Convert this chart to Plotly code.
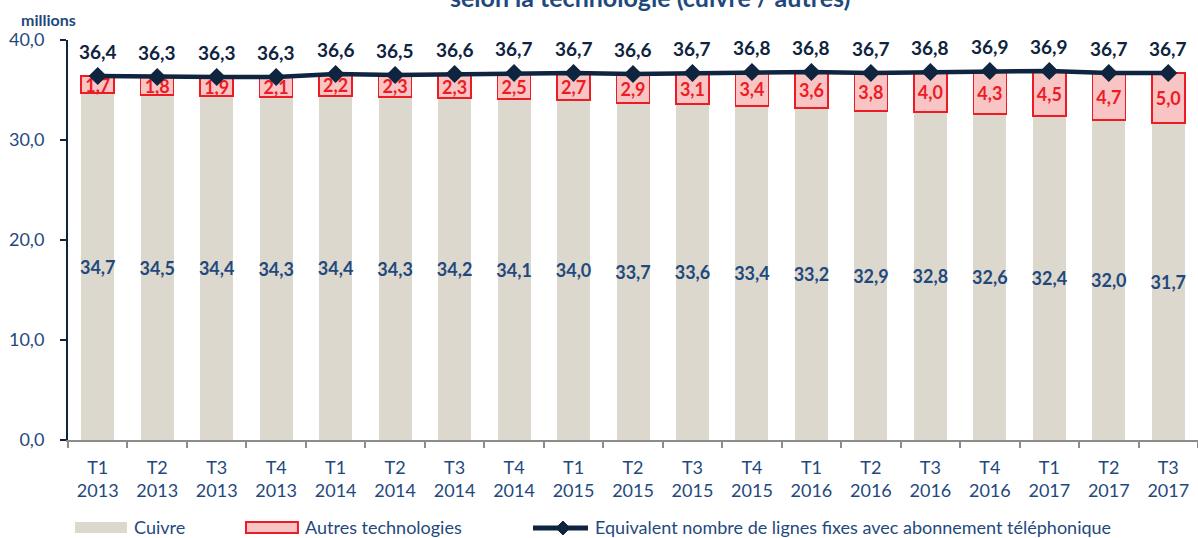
import plotly.graph_objects as go

# ---- data ----
quarters = ["T1", "T2", "T3", "T4", "T1", "T2", "T3", "T4", "T1", "T2", "T3", "T4",
            "T1", "T2", "T3", "T4", "T1", "T2", "T3"]
years = ["2013", "2013", "2013", "2013", "2014", "2014", "2014", "2014", "2015", "2015",
         "2015", "2015", "2016", "2016", "2016", "2016", "2017", "2017", "2017"]
cuivre = [34.7, 34.5, 34.4, 34.3, 34.4, 34.3, 34.2, 34.1, 34.0, 33.7, 33.6, 33.4,
          33.2, 32.9, 32.8, 32.6, 32.4, 32.0, 31.7]
autres = [1.7, 1.8, 1.9, 2.1, 2.2, 2.3, 2.3, 2.5, 2.7, 2.9, 3.1, 3.4,
          3.6, 3.8, 4.0, 4.3, 4.5, 4.7, 5.0]
total = [36.4, 36.3, 36.3, 36.3, 36.6, 36.5, 36.6, 36.7, 36.7, 36.6, 36.7, 36.8,
         36.8, 36.7, 36.8, 36.9, 36.9, 36.7, 36.7]
yticks = [0, 10, 20, 30, 40]

NAVY = "#0f243e"
BLUE = "#1f497d"
BEIGE = "#ddd8ce"
PINK = "#f9c4c4"
RED = "#ed1c24"
FONT = "Lato"


def fr(v):
    return f"{v:.1f}".replace(".", ",")


cats = [f"{q} {y}" for q, y in zip(quarters, years)]
ticktext = [f"{q}<br>{y}" for q, y in zip(quarters, years)]

fig = go.Figure()

fig.add_trace(go.Bar(
    x=cats, y=cuivre, name="Cuivre",
    marker=dict(color=BEIGE, line=dict(width=0)),
    text=[f"<b>{fr(v)}</b>" for v in cuivre], textposition="inside", insidetextanchor="middle",
    textangle=0, constraintext="none",
    textfont=dict(family=FONT, size=18, color=BLUE, weight="bold"),
    showlegend=False,
))
fig.add_trace(go.Bar(
    x=cats, y=autres, name="Autres technologies",
    marker=dict(color=PINK, line=dict(color=RED, width=1.5)),
    text=[f"<b>{fr(v)}</b>" for v in autres], textposition="inside", insidetextanchor="middle",
    textangle=0, constraintext="none",
    textfont=dict(family=FONT, size=18, color=RED, weight="bold"),
    showlegend=False,
))
fig.add_trace(go.Scatter(
    x=cats, y=total, name="Equivalent nombre de lignes fixes avec abonnement téléphonique",
    mode="lines+markers",
    line=dict(color=NAVY, width=4.5),
    marker=dict(symbol="diamond", size=14, color=NAVY),
    showlegend=False,
))

annotations = []
for c, t in zip(cats, total):
    annotations.append(dict(
        x=c, y=t, xref="x", yref="y", text=f"<b>{fr(t)}</b>", showarrow=False,
        yshift=25, font=dict(family=FONT, size=19, color=NAVY, weight="bold"),
    ))

# "millions" unit label
annotations.append(dict(
    x=-0.0173, y=1.052, xref="paper", yref="paper", text="<b>millions</b>", showarrow=False,
    xanchor="center", yanchor="middle",
    font=dict(family=FONT, size=16, color=BLUE, weight="bold"),
))
# title (partly cut off at the top, as in the reference)
annotations.append(dict(
    x=0.515, y=1.065, xref="paper", yref="paper",
    text="<b>selon la technologie (cuivre / autres)</b>", showarrow=False,
    xanchor="center", yanchor="bottom",
    font=dict(family=FONT, size=25, color=BLUE, weight="bold"),
))

# custom legend
leg_y = -0.2175
leg_font = dict(family=FONT, size=18, color=BLUE)
annotations += [
    dict(x=0.0566, y=leg_y, xref="paper", yref="paper", text="Cuivre", showarrow=False,
         xanchor="left", yanchor="middle", font=leg_font),
    dict(x=0.208, y=leg_y, xref="paper", yref="paper", text="Autres technologies",
         showarrow=False, xanchor="left", yanchor="middle", font=leg_font),
    dict(x=0.4646, y=leg_y, xref="paper", yref="paper",
         text="Equivalent nombre de lignes fixes avec abonnement téléphonique",
         showarrow=False, xanchor="left", yanchor="middle", font=leg_font),
]
shapes = [
    dict(type="rect", xref="paper", yref="paper", x0=0.0062, x1=0.0522, y0=-0.2325, y1=-0.205,
         fillcolor=BEIGE, line=dict(width=0)),
    dict(type="rect", xref="paper", yref="paper", x0=0.1575, x1=0.2035, y0=-0.2325, y1=-0.205,
         fillcolor=PINK, line=dict(color=RED, width=2)),
    dict(type="line", xref="paper", yref="paper", x0=0.4115, x1=0.4602, y0=-0.22, y1=-0.22,
         line=dict(color=NAVY, width=5)),
    dict(type="path", xref="paper", yref="paper", xsizemode="pixel", ysizemode="pixel",
         xanchor=0.438, yanchor=-0.22, path="M-7,0 L0,7 L7,0 L0,-7 Z",
         fillcolor=NAVY, line=dict(color=NAVY, width=1)),
]

fig.update_layout(
    width=1198, height=538,
    margin=dict(l=68, r=0, t=40, b=98, autoexpand=False),
    barmode="stack", bargap=0.445,
    plot_bgcolor="white", paper_bgcolor="white",
    separators=", ",
    font=dict(family=FONT, size=18, color=BLUE),
    annotations=annotations, shapes=shapes,
    showlegend=False,
)
fig.update_xaxes(
    type="category", tickvals=cats, ticktext=ticktext,
    range=[-0.5, len(cats) - 0.5], autorange=False,
    showline=True, linecolor="#8c8c8c", linewidth=2,
    ticks="outside", tickson="boundaries", ticklen=6, tickcolor="#8c8c8c", tickwidth=2,
    ticklabelstandoff=10,
    tickfont=dict(family=FONT, size=18, color=BLUE),
    showgrid=False, zeroline=False,
)
fig.update_yaxes(
    range=[0, 40], tickvals=yticks, tickformat=".1f",
    showline=True, linecolor=NAVY, linewidth=2,
    ticks="outside", ticklen=6, tickcolor=NAVY, tickwidth=2,
    ticklabelstandoff=12,
    tickfont=dict(family=FONT, size=18, color=BLUE),
    showgrid=False, zeroline=False,
)

fig.write_html(
    "out.html",
    config={"displayModeBar": False},
    post_script="document.body.style.margin='0';document.body.style.overflow='hidden';",
)
